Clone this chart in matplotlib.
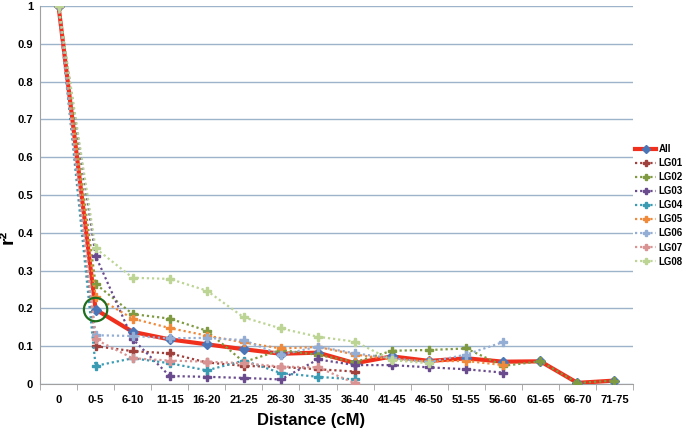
import numpy as np
import matplotlib
matplotlib.use("Agg")
import matplotlib.pyplot as plt
from matplotlib.patches import Ellipse

categories = ["0", "0-5", "6-10", "11-15", "16-20", "21-25", "26-30", "31-35",
              "36-40", "41-45", "46-50", "51-55", "56-60", "61-65", "66-70", "71-75"]

r2_all = [1.0, 0.197, 0.138, 0.118, 0.105, 0.092, 0.080, 0.083, 0.055, 0.073,
          0.061, 0.068, 0.059, 0.060, 0.003, 0.009]
lg01 = [1.0, 0.100, 0.087, 0.081, 0.057, 0.048, 0.045, 0.039, 0.033]
lg02 = [1.0, 0.265, 0.185, 0.173, 0.141, 0.058, 0.090, 0.077, 0.058, 0.088,
        0.090, 0.094, 0.048, 0.060, 0.003, 0.009]
lg03 = [1.0, 0.339, 0.119, 0.021, 0.019, 0.016, 0.012, 0.065, 0.050, 0.050,
        0.044, 0.039, 0.030]
lg04 = [1.0, 0.048, 0.068, 0.055, 0.036, 0.062, 0.029, 0.019, 0.012]
lg05 = [1.0, 0.231, 0.173, 0.148, 0.128, 0.110, 0.094, 0.098, 0.078, 0.065,
        0.060, 0.061, 0.050]
lg06 = [1.0, 0.129, 0.127, 0.121, 0.122, 0.116, 0.077, 0.099, 0.081, 0.068,
        0.058, 0.078, 0.111]
lg07 = [1.0, 0.118, 0.068, 0.062, 0.059, 0.055, 0.046, 0.044, 0.002]
lg08 = [1.0, 0.359, 0.281, 0.278, 0.247, 0.176, 0.147, 0.125, 0.112, 0.063, 0.055]

lg_series = [("LG01", lg01, "#a0403c"), ("LG02", lg02, "#7f9a40"),
             ("LG03", lg03, "#6a4c8e"), ("LG04", lg04, "#3a9bb3"),
             ("LG05", lg05, "#f08a3a"), ("LG06", lg06, "#93add4"),
             ("LG07", lg07, "#d99392"), ("LG08", lg08, "#bcd494")]

plt.rcParams["font.family"] = ["Liberation Sans", "DejaVu Sans"]
plt.rcParams["font.weight"] = "bold"

fig = plt.figure(figsize=(6.86, 4.33), dpi=100)
ax = fig.add_axes([40 / 686, 49 / 433, 593 / 686, 378 / 433])

x = np.arange(len(categories))

# main series
ax.plot(x, r2_all, color="#f0301c", lw=3, marker="D", ms=5,
        mfc="#4a76b8", mec="#4a76b8", label="All", zorder=3)

for name, vals, col in lg_series:
    xs = x[:len(vals)]
    ax.plot(xs, vals, color=col, lw=1.6, ls=(0, (1, 1.3)), marker="P", ms=5.5,
            mfc=col, mec=col, label=name, zorder=4)

# highlight circle
ax.add_patch(Ellipse((1, 0.197), 0.63, 0.062, fill=False,
                     edgecolor="#1e6e1e", lw=1.6, zorder=6))

ax.set_xlim(-0.5, len(categories) - 0.5)
ax.set_ylim(0, 1)
ax.set_yticks(np.arange(0, 1.01, 0.1))
ax.set_yticklabels(["0", "0.1", "0.2", "0.3", "0.4", "0.5", "0.6", "0.7",
                    "0.8", "0.9", "1"])
ax.set_xticks(x)
ax.set_xticklabels(categories)
ax.set_xticks(np.arange(-0.5, len(categories), 1), minor=True)
ax.tick_params(axis="x", which="major", length=0, labelsize=8, pad=8)
ax.tick_params(axis="x", which="minor", length=4, color="#a0a0a0")
ax.tick_params(axis="y", length=0, labelsize=8, pad=5)

ax.grid(axis="y", color="#9cb3c9", lw=1)
ax.set_axisbelow(True)
for s in ["top", "right"]:
    ax.spines[s].set_visible(False)
ax.spines["left"].set_color("#a0a0a0")
ax.spines["bottom"].set_color("#a0a0a0")

ax.set_xlabel("Distance (cM)", fontsize=12, fontweight="bold")
ax.xaxis.set_label_coords(0.457, -0.078)
ax.set_ylabel("r²", fontsize=14, fontweight="bold")
ax.yaxis.set_label_coords(-0.039, 0.39)

ax.legend(loc="upper left", bbox_to_anchor=(635 / 686, 1 - 144 / 433),
          bbox_transform=fig.transFigure, frameon=False, fontsize=7,
          labelspacing=0.42, handlelength=2.2, handletextpad=0.2,
          borderpad=0, borderaxespad=0, markerscale=0.8)

fig.savefig("out.png", dpi=100)
